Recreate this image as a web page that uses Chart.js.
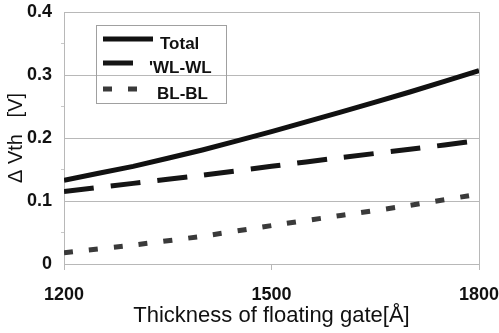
<!DOCTYPE html>
<html lang="en">
<head>
    <meta charset="UTF-8">
    <title>Delta Vth vs floating gate thickness</title>
    <style>
        html, body { margin: 0; padding: 0; background: #fff; }
        #chartWrap { width: 499px; height: 333px; }
    </style>
    <script src="https://cdn.jsdelivr.net/npm/chart.js"></script>
</head>
<body>
    <div id="chartWrap"><canvas id="vthChart"></canvas></div>
    <script>
        // values
        const thickness = [1200, 1300, 1400, 1500, 1600, 1700, 1800];
        const totalVth = [0.133, 0.155, 0.181, 0.210, 0.241, 0.273, 0.307];
        const wlVth = [0.115, 0.128, 0.141, 0.155, 0.169, 0.182, 0.196];
        const blVth = [0.018, 0.030, 0.044, 0.061, 0.077, 0.093, 0.111];
        const seriesNames = ['Total', "'WL-WL", 'BL-BL'];
        const xTicks = [1200, 1500, 1800];
        const yTicks = [0, 0.1, 0.2, 0.3, 0.4];

        const FONT = '"Liberation Sans", Arial, sans-serif';
        const toPoints = vals => vals.map((v, i) => ({ x: thickness[i], y: v }));
        const isMajor = v => yTicks.some(t => Math.abs(t - v) < 1e-6);

        // legend box sitting inside the plot, like the original
        const boxLegend = {
            id: 'boxLegend',
            afterDraw(chart) {
                const ctx = chart.ctx;
                const area = chart.chartArea;
                const left = area.left + 32, top = area.top + 13;
                const rows = [
                    { lineY: 39, textX: 160, len: 50 },
                    { lineY: 63, textX: 149, len: 32 },
                    { lineY: 89, textX: 157, len: 35 }
                ];
                ctx.save();
                ctx.strokeStyle = '#a0a0a0';
                ctx.lineWidth = 1;
                ctx.strokeRect(left + 0.5, top + 0.5, 130, 78);
                chart.data.datasets.forEach((ds, i) => {
                    const r = rows[i];
                    ctx.beginPath();
                    ctx.setLineDash(ds.borderDash || []);
                    ctx.lineCap = 'butt';
                    ctx.strokeStyle = ds.borderColor;
                    ctx.lineWidth = ds.borderWidth;
                    ctx.moveTo(left + 7, r.lineY);
                    ctx.lineTo(left + 7 + r.len, r.lineY);
                    ctx.stroke();
                    ctx.setLineDash([]);
                    ctx.fillStyle = '#111';
                    ctx.font = 'bold 17px ' + FONT;
                    ctx.textBaseline = 'middle';
                    ctx.fillText(ds.label, r.textX, r.lineY + 5);
                });
                ctx.restore();
            }
        };

        const ctx = document.getElementById('vthChart').getContext('2d');
        new Chart(ctx, {
            type: 'line',
            data: {
                datasets: [{
                    label: seriesNames[0],
                    data: toPoints(totalVth),
                    borderColor: '#111',
                    borderWidth: 5,
                    pointRadius: 0,
                    tension: 0.1
                }, {
                    label: seriesNames[1],
                    data: toPoints(wlVth),
                    borderColor: '#151515',
                    borderWidth: 5,
                    borderDash: [30, 17],
                    pointRadius: 0,
                    tension: 0.1
                }, {
                    label: seriesNames[2],
                    data: toPoints(blVth),
                    borderColor: '#3a3a3a',
                    borderWidth: 5,
                    borderDash: [9, 16],
                    pointRadius: 0,
                    tension: 0.1
                }]
            },
            options: {
                responsive: true,
                maintainAspectRatio: false,
                animation: false,
                layout: { padding: { top: 12, right: 20, left: 0, bottom: 0 } },
                plugins: {
                    legend: { display: false },
                    tooltip: { enabled: false }
                },
                scales: {
                    x: {
                        type: 'linear',
                        min: 1200,
                        max: 1800,
                        afterBuildTicks: scale => { scale.ticks = xTicks.map(v => ({ value: v })); },
                        afterFit: scale => {
                            scale.height = 69;
                            scale.paddingLeft = 0;
                            scale.paddingRight = 0;
                        },
                        grid: {
                            color: c => c.tick && c.tick.value === 1800 ? '#b8b8b8' : 'transparent',
                            tickColor: '#b8b8b8',
                            tickLength: 6
                        },
                        border: { color: '#b8b8b8' },
                        ticks: {
                            color: '#111',
                            padding: 14,
                            maxRotation: 0,
                            font: { family: FONT, size: 18, weight: 'bold' },
                            callback: v => String(v)
                        },
                        title: {
                            display: true,
                            text: 'Thickness of floating gate[Å]',
                            color: '#111',
                            padding: { top: 0 },
                            font: { family: FONT, size: 22 }
                        }
                    },
                    y: {
                        min: 0,
                        max: 0.4,
                        afterFit: scale => {
                            scale.width = 64;
                            scale.paddingTop = 0;
                            scale.paddingBottom = 0;
                        },
                        grid: {
                            color: c => c.tick && isMajor(c.tick.value) && c.tick.value > 0 ? '#b8b8b8' : 'transparent',
                            tickColor: c => c.tick && isMajor(c.tick.value) ? 'transparent' : '#c8c8c8',
                            tickLength: 3
                        },
                        border: { color: '#b8b8b8' },
                        ticks: {
                            stepSize: 0.05,
                            color: '#111',
                            padding: 9,
                            font: { family: FONT, size: 18, weight: 'bold' },
                            callback: v => isMajor(v) ? (v === 0 ? '0' : v.toFixed(1)) : ''
                        },
                        title: {
                            display: true,
                            text: 'Δ Vth   [V]',
                            color: '#111',
                            padding: { bottom: 0 },
                            font: { family: FONT, size: 20 }
                        }
                    }
                }
            },
            plugins: [boxLegend]
        });
    </script>
</body>
</html>
